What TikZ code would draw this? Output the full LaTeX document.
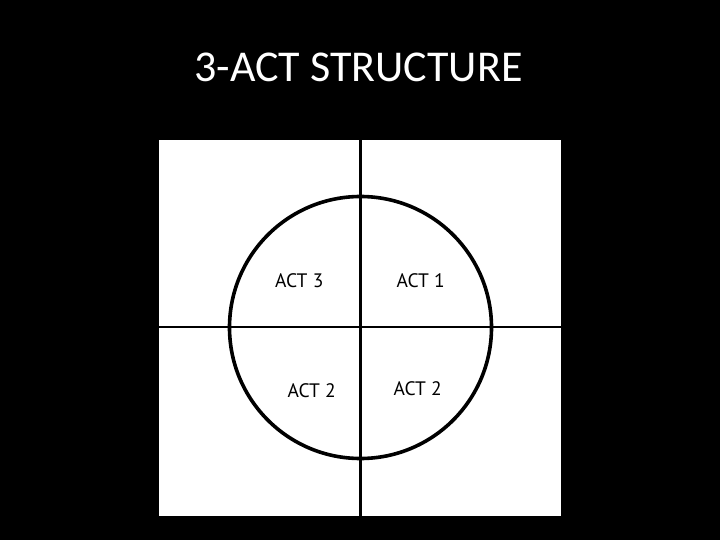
\documentclass[tikz,border=0pt]{standalone}
\usepackage{fontspec}
\setmainfont{Carlito}
\newfontfamily\labelfont{PT Sans}
\begin{document}
\begin{tikzpicture}[x=1pt,y=-1pt,
  actlabel/.style={font=\labelfont\fontsize{19.5}{22}\selectfont, text=black, inner sep=0pt},
  divider/.style={draw=black, line width=2.8pt},
  ring/.style={draw=black, line width=3.6pt}]
\useasboundingbox (0,0) rectangle (720,540);
\fill[black] (0,0) rectangle (720,540);
\node[font=\fontsize{44}{50}\selectfont, text=white, inner sep=0pt] (title) at (358.5,67.5) {3-ACT STRUCTURE};
\fill[white] (159,140) rectangle (561,516);
\coordinate (top) at (360.5,140);
\coordinate (bottom) at (360.5,516);
\coordinate (left) at (159,327);
\coordinate (right) at (561,327);
\draw[divider] (top) -- (bottom);
\draw[divider] (left) -- (right);
\draw[ring] (360.5,327.5) circle (131);
\node[actlabel] (act3) at (299.3,280.7) {ACT 3};
\node[actlabel] (act1) at (420.7,280.7) {ACT 1};
\node[actlabel] (act2l) at (311.7,390.7) {ACT 2};
\node[actlabel] (act2r) at (417.7,388.7) {ACT 2};
\end{tikzpicture}
\end{document}
